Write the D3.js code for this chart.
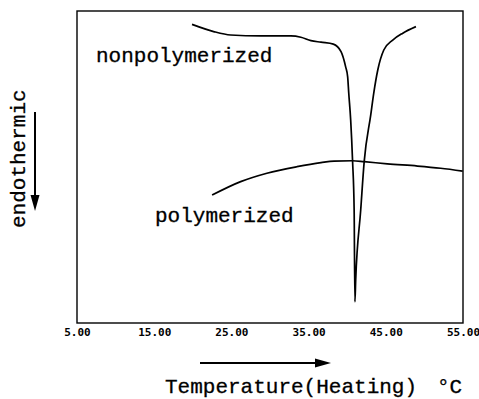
<!DOCTYPE html>
<html>
<head>
<meta charset="utf-8">
<script src="https://cdn.jsdelivr.net/npm/d3@7/dist/d3.min.js"></script>
<style>
  body { margin: 0; background: #fff; }
  svg { display: block; }
</style>
</head>
<body>
<div id="chart"></div>
<script>
// temperature ticks (°C)
const tickValues = [5, 15, 25, 35, 45, 55];
const tickLabels = ['5.00', '15.00', '25.00', '35.00', '45.00', '55.00'];

// DSC traces, heat flow in arbitrary units
const nonpolyTemp = [19.9, 22.7, 24.9, 28.8, 32.7, 34.0, 35.3, 36.6, 38.2, 39.2, 39.8, 40.06, 40.2, 40.45, 40.7, 40.9, 41.0,
  41.1, 41.75, 42.2, 43.05, 43.44, 43.96, 44.74, 45.9, 47.2, 48.9];
const nonpolyHeat = [95.7, 93.4, 92.3, 92.0, 92.0, 91.6, 90.5, 90.0, 89.4, 87.0, 82.1, 78.9, 73.7, 65.1, 51.7, 36.2, 6.8,
  13.8, 36.2, 51.7, 66.7, 73.7, 81.1, 87.5, 90.7, 92.9, 95.0];

const polyTemp = [22.5, 26.2, 29.6, 33.5, 36.6, 38.3, 40.7, 42.2, 45.2, 49.1, 52.1, 54.96];
const polyHeat = [41.0, 45.3, 48.0, 50.1, 51.4, 51.9, 52.0, 51.7, 51.0, 50.3, 49.6, 48.7];

const width = 479;
const height = 399;
const margin = { top: 11, right: 16, bottom: 76, left: 77 };

const svg = d3.select('#chart')
  .append('svg')
  .attr('width', width)
  .attr('height', height);

const x = d3.scaleLinear()
  .domain([5, 55])
  .range([margin.left, width - margin.right]);

const y = d3.scaleLinear()
  .domain([0, 100])
  .range([height - margin.bottom, margin.top]);

// frame
svg.append('rect')
  .attr('x', x(5))
  .attr('y', y(100))
  .attr('width', x(55) - x(5))
  .attr('height', y(0) - y(100))
  .style('fill', 'none')
  .style('stroke', '#000')
  .style('stroke-width', '1.4px');

// x axis labels
const xAxis = d3.axisBottom(x)
  .tickValues(tickValues)
  .tickSize(0)
  .tickPadding(5)
  .tickFormat((d, i) => tickLabels[i]);

const gx = svg.append('g')
  .attr('transform', `translate(0,${y(0)})`)
  .call(xAxis);
gx.select('.domain').remove();
gx.selectAll('text')
  .style('font-family', 'DejaVu Sans Mono')
  .style('font-weight', 'bold')
  .style('font-size', '11px')
  .style('fill', '#000');

const line = d3.line()
  .x(d => x(d[0]))
  .y(d => y(d[1]))
  .curve(d3.curveMonotoneX);

svg.append('path')
  .datum(d3.zip(nonpolyTemp, nonpolyHeat))
  .attr('d', line)
  .style('fill', 'none')
  .style('stroke', '#000')
  .style('stroke-width', '1.7px');

svg.append('path')
  .datum(d3.zip(polyTemp, polyHeat))
  .attr('d', line)
  .style('fill', 'none')
  .style('stroke', '#000')
  .style('stroke-width', '1.7px');

const textFont = 'Liberation Mono';

function label(tx, ty, txt) {
  return svg.append('text')
    .attr('x', tx)
    .attr('y', ty)
    .text(txt)
    .style('font-family', textFont)
    .style('font-size', '21px')
    .style('fill', '#000')
    .style('stroke', '#000')
    .style('stroke-width', '0.3px');
}

label(96, 62, 'nonpolymerized');
label(155, 222, 'polymerized');
label(165, 393, 'Temperature(Heating)');
label(437, 393, '°C');

// y label, rotated
svg.append('text')
  .attr('transform', 'translate(25,228) rotate(-90)')
  .text('endothermic')
  .style('font-family', textFont)
  .style('font-size', '21px')
  .style('fill', '#000')
  .style('stroke', '#000')
  .style('stroke-width', '0.3px');

// arrows
function arrow(x1, y1, x2, y2) {
  const ang = Math.atan2(y2 - y1, x2 - x1);
  const len = 16, half = 4.5;
  const bx = x2 - len * Math.cos(ang), by = y2 - len * Math.sin(ang);
  svg.append('line')
    .attr('x1', x1).attr('y1', y1)
    .attr('x2', bx).attr('y2', by)
    .style('stroke', '#000')
    .style('stroke-width', '2px');
  svg.append('path')
    .attr('d', `M${x2},${y2}L${bx - half * Math.sin(ang)},${by + half * Math.cos(ang)}L${bx + half * Math.sin(ang)},${by - half * Math.cos(ang)}Z`)
    .style('fill', '#000');
}

arrow(35, 112, 35, 211);
arrow(200, 363, 331, 363);
</script>
</body>
</html>
